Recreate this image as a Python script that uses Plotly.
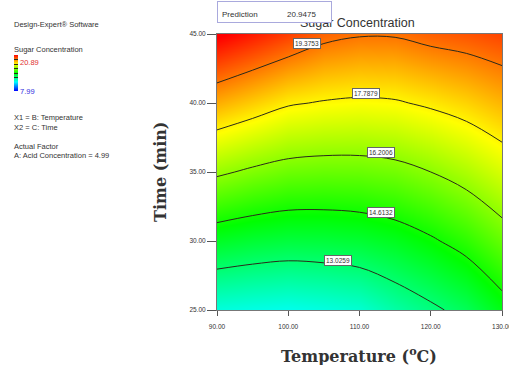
import plotly.graph_objects as go

# ---- data ----
temperature = [90, 95, 100, 105, 110, 115, 120, 125, 130]
time_min = [25, 30, 35, 40, 45]
sugar = [
    [11.64, 11.53, 11.45, 11.59, 11.78, 12.34, 12.83, 13.34, 14.19],  # t=25
    [13.98, 13.78, 13.66, 13.69, 13.80, 14.06, 14.48, 14.99, 15.71],  # t=30
    [16.36, 16.04, 15.80, 15.73, 15.75, 15.88, 16.20, 16.62, 17.17],  # t=35
    [18.70, 18.29, 17.88, 17.72, 17.64, 17.70, 17.93, 18.21, 18.60],  # t=40
    [21.02, 20.57, 20.12, 19.64, 19.45, 19.46, 19.69, 19.83, 20.03],  # t=45
]
contour_levels = [13.0259, 14.6132, 16.2006, 17.7879, 19.3753]
contour_label_T = [107.0, 113.0, 113.0, 110.9, 102.6]
contour_label_t = [28.6, 32.1, 36.4, 40.7, 44.3]
x_ticks = [90, 100, 110, 120, 130]
y_ticks = [25, 30, 35, 40, 45]
z_min, z_max = 7.99, 20.89
prediction = 20.9475
acid = 4.99

colorscale = [[0, "#0000ff"], [0.25, "#00ffff"], [0.5, "#00ff00"],
              [0.75, "#ffff00"], [1, "#ff0000"]]

W, H = 509, 365
L, R, T, B = 217, 7, 34, 55
pw, ph = W - L - R, H - T - B

def px2paper(x, y):
    return (x - L) / pw, (H - B - y) / ph

FONT = "Liberation Sans, Arial"

fig = go.Figure()
fig.add_trace(go.Contour(
    x=temperature, y=time_min, z=sugar,
    zmin=z_min, zmax=z_max, colorscale=colorscale,
    contours=dict(start=contour_levels[0], end=contour_levels[-1] + 0.001,
                  size=(contour_levels[-1] - contour_levels[0]) / 4,
                  coloring="heatmap", showlines=True),
    line=dict(color="#2a2a1a", width=1),
    colorbar=dict(xref="container", yref="container", x=14 / W, xanchor="left",
                  y=1 - 73 / H, yanchor="top", lenmode="pixels", len=36,
                  thickness=4, showticklabels=False, ticks="",
                  outlinewidth=0, xpad=0, ypad=0),
    hoverinfo="skip",
))

ann = []
# title (drawn first so the prediction box covers it)
x, y = px2paper(357.5, 23)
ann.append(dict(x=x, y=y, xref="paper", yref="paper", text="Sugar Concentration",
                showarrow=False, xanchor="center", yanchor="middle",
                font=dict(family=FONT, size=12.5, color="#333")))
# prediction box
x, y = px2paper(217, 1)
ann.append(dict(x=x, y=y, xref="paper", yref="paper", text=" ", showarrow=False,
                xanchor="left", yanchor="top", width=113, height=20,
                bgcolor="white", bordercolor="#a9a9dd", borderwidth=1, borderpad=0))
x, y = px2paper(220, 15)
ann.append(dict(x=x, y=y, xref="paper", yref="paper", text="Prediction", showarrow=False,
                xanchor="left", yanchor="middle", font=dict(family=FONT, size=8, color="#333")))
x, y = px2paper(285, 15)
ann.append(dict(x=x, y=y, xref="paper", yref="paper", text=f"{prediction:.4f}", showarrow=False,
                xanchor="left", yanchor="middle", font=dict(family=FONT, size=8, color="#333")))

# left info panel
left_texts = [
    ("Design-Expert® Software", 12, 24, "#333"),
    ("Sugar Concentration", 12, 49, "#333"),
    (f"{z_max:.2f}", 18, 62, "#e03030"),
    (f"{z_min:.2f}", 18, 91, "#3030e0"),
    ("X1 = B: Temperature", 12, 117, "#333"),
    ("X2 = C: Time", 12, 127, "#333"),
    ("Actual Factor", 12, 146, "#333"),
    (f"A: Acid Concentration = {acid:.2f}", 12, 155, "#333"),
]
for txt, lx, ly, col in left_texts:
    x, y = px2paper(lx, ly)
    ann.append(dict(x=x, y=y, xref="paper", yref="paper", text=txt, showarrow=False,
                    xanchor="left", yanchor="middle",
                    font=dict(family=FONT, size=7.5, color=col)))

# contour labels
for lv, lt, ltt in zip(contour_levels, contour_label_T, contour_label_t):
    ann.append(dict(x=lt, y=ltt, xref="x", yref="y", text=f"{lv:.4f}", showarrow=False,
                    xanchor="center", yanchor="middle",
                    bgcolor="white", bordercolor="#666", borderwidth=1, borderpad=1,
                    font=dict(family=FONT, size=6.5, color="#333")))

# axis titles
x, y = px2paper(359, 355)
ann.append(dict(x=x, y=y, xref="paper", yref="paper",
                text="<b>Temperature (<sup>o</sup>C)</b>", showarrow=False,
                xanchor="center", yanchor="middle",
                font=dict(family="DejaVu Serif", size=16, color="#333")))
x, y = px2paper(160, 172)
ann.append(dict(x=x, y=y, xref="paper", yref="paper", text="<b>Time (min)</b>",
                showarrow=False, textangle=-90, xanchor="center", yanchor="middle",
                font=dict(family="DejaVu Serif", size=16, color="#333")))

fig.update_layout(
    width=W, height=H, margin=dict(l=L, r=R, t=T, b=B, autoexpand=False),
    paper_bgcolor="white", plot_bgcolor="white",
    annotations=ann, showlegend=False,
    xaxis=dict(range=[90, 130], tickvals=x_ticks, ticktext=[f"{v:.2f}" for v in x_ticks],
               ticks="outside", ticklen=5, tickcolor="#555", showline=True, mirror=True,
               linecolor="#777", showgrid=False, zeroline=False, ticklabelstandoff=5,
               ticklabeloverflow="allow", automargin=False,
               tickfont=dict(family=FONT, size=6.5, color="#333")),
    yaxis=dict(range=[25, 45], tickvals=y_ticks, ticktext=[f"{v:.2f}" for v in y_ticks],
               ticks="outside", ticklen=9, tickcolor="#555", showline=True, mirror=True,
               linecolor="#777", showgrid=False, zeroline=False, automargin=False,
               tickfont=dict(family=FONT, size=6.5, color="#333")),
)

fig.write_html("out.html")
